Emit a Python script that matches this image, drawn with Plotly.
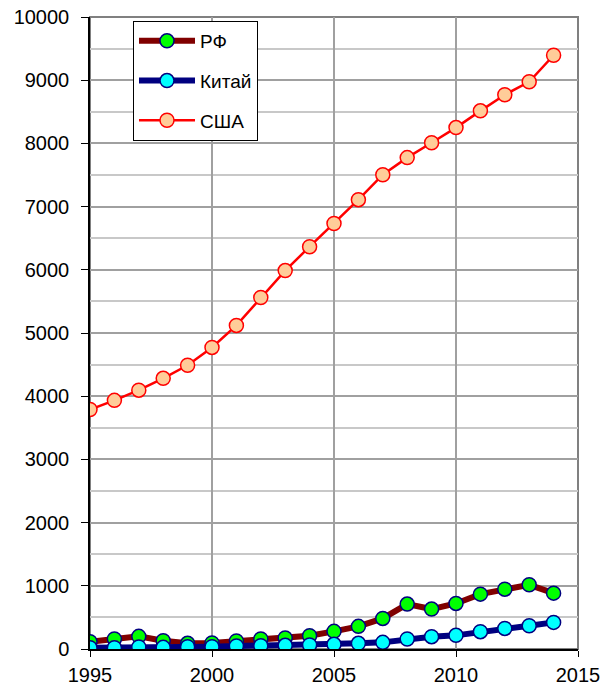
import plotly.graph_objects as go

years = list(range(1995, 2015))
rf = [116, 158, 200, 132, 90, 95, 126, 158, 174, 210, 279, 358, 484, 711, 632, 721, 868, 947, 1016, 884]
china = [21, 21, 32, 26, 37, 37, 47, 53, 58, 63, 74, 90, 105, 158, 195, 216, 274, 326, 368, 421]
usa = [3790, 3934, 4095, 4283, 4490, 4772, 5120, 5562, 5988, 6365, 6732, 7110, 7504, 7775, 8010, 8250, 8515, 8770, 8975, 9395]

names = ["РФ", "Китай", "США"]

fig = go.Figure()
fig.add_trace(go.Scatter(x=years, y=rf, name=names[0], mode="lines+markers", legendgroup="a",
                         line=dict(color="#800000", width=6),
                         marker=dict(size=14, color="#00FF00", line=dict(color="#000080", width=1.5))))
fig.add_trace(go.Scatter(x=years, y=china, name=names[1], mode="lines+markers", legendgroup="b",
                         line=dict(color="#000080", width=6),
                         marker=dict(size=14, color="#00FFFF", line=dict(color="#000080", width=1.5))))
fig.add_trace(go.Scatter(x=years, y=usa, name=names[2], mode="lines+markers", legendgroup="c",
                         line=dict(color="#FF0000", width=2.5),
                         marker=dict(size=14, color="#FFCC99", line=dict(color="#FF0000", width=1.5))))

fig.update_layout(
    width=610, height=686,
    margin=dict(l=90, r=32, t=17, b=37),
    paper_bgcolor="white", plot_bgcolor="white",
    font=dict(family="Liberation Sans, Arial, sans-serif", size=20, color="black"),
    showlegend=True,
    legend=dict(x=(133 - 90) / 488, y=(649 - 21) / 632, xanchor="left", yanchor="top",
                bgcolor="white", bordercolor="black", borderwidth=1,
                font=dict(size=19), tracegroupgap=12, itemwidth=56),
    shapes=[dict(type="rect", xref="paper", yref="paper", x0=0, x1=1, y0=0, y1=1,
                 line=dict(color="#808080", width=2), layer="below")],
)
fig.update_xaxes(range=[1995, 2015], tickmode="linear", tick0=1995, dtick=5,
                 showgrid=True, gridcolor="#A0A0A0", gridwidth=2, automargin=False,
                 showline=True, linecolor="black", linewidth=1.5,
                 ticks="outside", ticklen=6, tickcolor="black", zeroline=False,
                 ticklabelstandoff=1, ticklabeloverflow="allow")
fig.update_yaxes(range=[0, 10000], tickmode="linear", tick0=0, dtick=1000, tickformat="d",
                 showgrid=True, gridcolor="#A0A0A0", gridwidth=2, automargin=False,
                 minor=dict(dtick=500, showgrid=True, gridcolor="#C8C8C8", gridwidth=2),
                 showline=True, linecolor="black", linewidth=1.5,
                 ticks="outside", ticklen=7, tickcolor="black", zeroline=False,
                 ticklabelstandoff=8, ticklabeloverflow="allow")

fig.write_html("out.html", config={"displayModeBar": False},
               post_script="document.body.style.margin='0';document.body.style.overflow='hidden';")
